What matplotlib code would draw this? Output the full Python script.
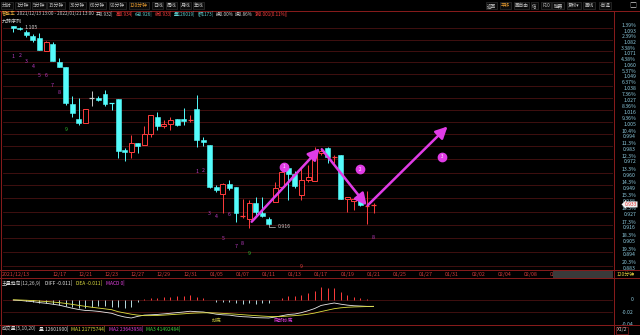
import matplotlib
matplotlib.use("Agg")
import matplotlib.pyplot as plt
import matplotlib.transforms as mtrans
from matplotlib.patches import Rectangle
import numpy as np

plt.rcParams["font.family"] = ["Noto Sans CJK SC", "DejaVu Sans"]
plt.rcParams["axes.unicode_minus"] = False

W, H = 640, 335
UP = "#FF3C3C"
DOWN = "#54FCFC"
FRAME = "#8A1C1C"
GRID = "#4A1212"
AXTXT = "#8CC8DC"
MAGENTA = "#E03CE6"

# 120 分钟 K 线 (2021/12/13 13:00 - 2022/01/21 13:00)
open_ = [1.0955, 1.0936, 1.0891, 1.0855, 1.0838, 1.0713, 1.0777, 1.0606, 1.0553, 1.0211,
         1.0075, 1.0041, 1.0264, 1.0269, 1.0306, 1.0221, 1.0255, 0.9798, 0.9778, 0.9860,
         0.9842, 0.9937, 1.0096, 1.0012, 1.0030, 1.0072, 1.0072, 1.0063, 1.0166, 0.9886,
         0.9842, 0.9475, 0.9418, 0.9502, 0.9480, 0.9233, 0.9206, 0.9345, 0.9261, 0.9206,
         0.9354, 0.9480, 0.9638, 0.9589, 0.9410, 0.9538, 0.9532, 0.9775, 0.9813, 0.9730,
         0.9754, 0.9376, 0.9362, 0.9368, 0.9312, 0.932]
high = [1.0955, 1.0946, 1.0913, 1.0871, 1.0881, 1.0806, 1.0793, 1.0645, 1.0559, 1.0285,
        1.0264, 1.0163, 1.0331, 1.0285, 1.0340, 1.0221, 1.0255, 0.9818, 0.9931, 0.9860,
        1.0012, 1.0112, 1.0141, 1.0066, 1.0096, 1.0072, 1.0172, 1.0111, 1.0294, 0.9915,
        0.9842, 0.9493, 0.9509, 0.9538, 0.9480, 0.9376, 0.9368, 0.9395, 0.9395, 0.9225,
        0.9522, 0.9652, 0.9666, 0.9615, 0.9652, 0.9666, 0.9827, 0.9813, 0.9827, 0.9754,
        0.9754, 0.9391, 0.9376, 0.9385, 0.9445, 0.934]
low = [1.0897, 1.0913, 1.0848, 1.0799, 1.0716, 1.0713, 1.0616, 1.0553, 1.0202, 1.0096,
       1.0021, 1.0041, 1.0196, 1.0239, 1.0196, 1.0156, 0.9725, 0.9704, 0.9725, 0.9775,
       0.9842, 0.9915, 0.9976, 0.9996, 0.9976, 1.0012, 1.0021, 1.0051, 0.9827, 0.9836,
       0.9466, 0.9437, 0.9256, 0.9452, 0.9186, 0.9214, 0.9132, 0.9242, 0.9227, 0.9160,
       0.9354, 0.9466, 0.9368, 0.9469, 0.9368, 0.9524, 0.9532, 0.9754, 0.9681, 0.9681,
       0.9376, 0.9270, 0.9284, 0.9318, 0.9167, 0.926]
close = [1.0930, 1.0922, 1.0864, 1.0815, 1.0716, 1.0799, 1.0616, 1.0559, 1.0218, 1.0126,
         1.0041, 1.0163, 1.0264, 1.0246, 1.0214, 1.0214, 0.9792, 0.9778, 0.9857, 0.9831,
         0.9937, 1.0112, 1.0014, 1.0030, 1.0066, 1.0021, 1.0057, 1.0075, 0.9886, 0.9871,
         0.9475, 0.9452, 0.9503, 0.9466, 0.9256, 0.9242, 0.9340, 0.9264, 0.9236, 0.9170,
         0.9466, 0.9609, 0.9589, 0.9486, 0.9538, 0.9566, 0.9783, 0.9792, 0.9739, 0.9739,
         0.9376, 0.9391, 0.9376, 0.9326, 0.9318, 0.933]

# 坐标轴刻度
grid_prices = [1.093, 1.082, 1.071, 1.060, 1.049, 1.038, 1.027, 1.016, 1.005, 0.994,
               0.983, 0.972, 0.960, 0.949, 0.938, 0.927, 0.916, 0.905, 0.894, 0.883]
grid_pcts = ["1.39%", "2.39%", "3.38%", "4.38%", "5.37%", "6.37%", "7.36%", "8.36%",
             "9.36%", "10.4%", "11.3%", "12.3%", "13.3%", "14.3%", "15.3%", "16.3%",
             "17.3%", "18.3%", "19.3%", "20.3%"]
date_pos = [7, 11, 15, 19, 23, 27, 31, 35, 39, 43, 47, 51, 55, 59, 63, 67, 71, 75, 79, 83, 87]
date_labels = ["12/17", "12/21", "12/23", "12/27", "12/29", "12/31", "01/05", "01/07",
               "01/11", "01/13", "01/17", "01/19", "01/21", "01/25", "01/27", "01/31",
               "02/02", "02/04", "02/08", "02/10", "02/14"]

# 九转序列
td_idx = [0, 1, 2, 3, 4, 5, 6, 7, 8, 28, 29, 30, 31, 32, 33, 34, 35, 36, 55]
td_txt = ["1", "2", "3", "4", "5", "6", "7", "8", "9",
          "1", "2", "3", "4", "5", "6", "7", "8", "9", "8"]

# 画线: 箭头 (K线序号, 价格) 与圆圈标记
arrows = [((36.4, 0.9186), (46.8, 0.9813)),
          ((47.1, 0.9804), (53.95, 0.9322)),
          ((54.1, 0.9322), (66.3, 1.0007))]
circle_x = [41.3, 53.0, 65.4]
circle_y = [0.9652, 0.9630, 0.9739]
circle_txt = ["1", "2", "3"]

# MACD
diff = [-0.001, -0.0015, -0.0025, -0.0035, -0.005, -0.006, -0.0075, -0.009, -0.0115, -0.014,
        -0.016, -0.0175, -0.018, -0.019, -0.0205, -0.022, -0.0255, -0.028, -0.0296, -0.027,
        -0.025, -0.0245, -0.0239, -0.023, -0.022, -0.021, -0.020, -0.0188, -0.0195, -0.020,
        -0.0216, -0.0235, -0.0245, -0.025, -0.0265, -0.0275, -0.028, -0.029, -0.0293, -0.0296,
        -0.028, -0.026, -0.024, -0.0232, -0.021, -0.018, -0.0145, -0.0095, -0.0075, -0.0056,
        -0.0075, -0.009, -0.010, -0.0105, -0.011, -0.011]
dea = [-0.0005, -0.0008, -0.0012, -0.0017, -0.0025, -0.0032, -0.004, -0.005, -0.0063, -0.0078,
       -0.0094, -0.011, -0.0124, -0.0137, -0.015, -0.0163, -0.0195, -0.0215, -0.0235, -0.025,
       -0.0258, -0.0258, -0.0255, -0.025, -0.0243, -0.0236, -0.0229, -0.0221, -0.0216, -0.0213,
       -0.0213, -0.0216, -0.0222, -0.0228, -0.0235, -0.0243, -0.0251, -0.0258, -0.0265, -0.0271,
       -0.0273, -0.0271, -0.0265, -0.0258, -0.0249, -0.0235, -0.0217, -0.0193, -0.0170, -0.0147,
       -0.0133, -0.0124, -0.0119, -0.0116, -0.0113, -0.011]
macd_hist = [-0.001, -0.0014, -0.0026, -0.0036, -0.005, -0.0056, -0.007, -0.008, -0.0104, -0.0124,
             -0.0132, -0.013, -0.0112, -0.0106, -0.011, -0.0114, -0.012, -0.013, -0.0122, -0.004,
             0.0016, 0.0026, 0.0032, 0.004, 0.0046, 0.0052, 0.0058, 0.0066, 0.0042, 0.0026,
             -0.0006, -0.0038, -0.0046, -0.0044, -0.006, -0.0064, -0.0058, -0.0064, -0.0056, -0.005,
             -0.0014, 0.0022, 0.005, 0.0052, 0.0078, 0.011, 0.0144, 0.0196, 0.019, 0.0182,
             0.0116, 0.0068, 0.0038, 0.0022, 0.0006, 0.0]


def fx(px):
    return px / W


def fy(py):
    return 1 - py / H


fig = plt.figure(figsize=(W / 100, H / 100), dpi=100, facecolor="black")
renderer = fig.canvas.get_renderer()


def ftext(px, py, s, color="#D0D0D0", size=3.6, ha="left", **kw):
    return fig.text(fx(px), fy(py), s, color=color, fontsize=size, ha=ha, va="center", **kw)


def text_row(pieces, px, py, size, gap=2.5):
    # 一行彩色文字, 依次排开, 不重叠
    for t, c in pieces:
        txt = ftext(px, py, t, color=c, size=size)
        px = txt.get_window_extent(renderer).x1 + gap


# ---- 主图 ----
x0, x1 = -1.5725, 91.56
ax = fig.add_axes([fx(3), fy(269), 610 / W, 259 / H])
ax.set_facecolor("black")
ax.set_yscale("log")
ax.set_xlim(x0, x1)
ax.set_ylim(0.8804, 1.1111)
ax.set_xticks([])
ax.set_yticks([])
ax.minorticks_off()
for s in ax.spines.values():
    s.set_visible(False)

for p in grid_prices:
    ax.axhline(p, color=GRID, lw=0.6, zorder=0)

idx = np.arange(len(close))
bw = 0.76
for i in idx:
    o, h, l, c = open_[i], high[i], low[i], close[i]
    if c > o:
        col = UP
    elif c < o:
        col = DOWN
    else:
        col = "#C8C8C8"
    ax.vlines(i, l, h, color=col, lw=0.7, zorder=2)
    top, bot = max(o, c), min(o, c)
    if top / bot < 1.0012:
        ax.hlines((top + bot) / 2, i - bw / 2, i + bw / 2, color=col, lw=0.9, zorder=3)
    elif c > o:
        ax.bar(i, top - bot, bottom=bot, width=bw, facecolor="black", edgecolor=col,
               lw=0.7, zorder=3)
    else:
        ax.bar(i, top - bot, bottom=bot, width=bw, facecolor=col, edgecolor=col,
               lw=0.4, zorder=3)

# 九转数字
for k, (i, t) in enumerate(zip(td_idx, td_txt)):
    col = "#30C030" if (t == "9" and k < 18) else "#B83CC0"
    ax.annotate(t, xy=(i, low[i]), xytext=(0, -25), textcoords="offset pixels",
                ha="center", va="center", color=col, fontsize=3.8)
ax.annotate("9", xy=(44, 0.8827), ha="center", va="center", color="#E03C3C", fontsize=3.8)

# 最高 / 最低 标注
ax.annotate("1.105", xy=(1, high[1]), xytext=(5, -1), textcoords="offset pixels",
            ha="left", va="center", color="#D0D0D0", fontsize=3.8)
ax.annotate("0.916", xy=(39, low[39]), xytext=(9, -2), textcoords="offset pixels",
            ha="left", va="center", color="#C8C8C8", fontsize=3.8,
            arrowprops=dict(arrowstyle="-", color="#C8C8C8", lw=0.5,
                            connectionstyle="angle,angleA=0,angleB=90", shrinkA=0, shrinkB=0))

for (xs, ys), (xe, ye) in arrows:
    ax.annotate("", xy=(xe, ye), xytext=(xs, ys),
                arrowprops=dict(arrowstyle="-|>,head_length=0.7,head_width=0.35",
                                color=MAGENTA, lw=1.8, shrinkA=0, shrinkB=0), zorder=5)
ax.plot(circle_x, circle_y, "o", ms=6, color=MAGENTA, zorder=6)
for cx, cy, t in zip(circle_x, circle_y, circle_txt):
    ax.text(cx, cy, t, color="white", fontsize=3.2, ha="center", va="center", zorder=7)

# 右侧价格轴
tr = mtrans.blended_transform_factory(fig.transFigure, ax.transData)
for p, pc in zip(grid_prices, grid_pcts):
    ax.annotate(pc, xy=(fx(636), p), xycoords=tr, xytext=(0, 2.8), textcoords="offset pixels",
                ha="right", va="center", color=AXTXT, fontsize=3.7, annotation_clip=False)
    ax.annotate(f"{p:.3f}", xy=(fx(636), p), xycoords=tr, xytext=(0, -2.8),
                textcoords="offset pixels", ha="right", va="center", color=AXTXT,
                fontsize=3.7, annotation_clip=False)
# 最新价标签 (盖在刻度上, 与原图一样)
ax.annotate(f"{close[-1]:.3f}", xy=(fx(637), close[-1]), xycoords=tr, ha="right",
            va="center", color="#E03030", fontsize=3.6, annotation_clip=False, zorder=8,
            bbox=dict(boxstyle="larrow,pad=0.1", fc="#F0F0F0", ec="none"))

# ---- 日期行 ----
trd = mtrans.blended_transform_factory(ax.transData, fig.transFigure)
fig.patches.append(Rectangle((fx(553), fy(277.5)), fx(60), 7 / H, transform=fig.transFigure,
                             fc="#3A3A3A", ec="none"))
ftext(2, 274.3, "2021/12/13", color="#D23C3C", size=3.8)
for d, lab in zip(date_pos, date_labels):
    ax.text(d, fy(274.3), lab, transform=trd, ha="center", va="center",
            color="#D23C3C", fontsize=3.8, clip_on=False)
ftext(626, 274.3, "120分钟", color="#E8D040", size=3.6, ha="center")

# ---- MACD ----
ax2 = fig.add_axes([fx(3), fy(324), 610 / W, 46 / H])
ax2.set_facecolor("black")
ax2.set_xlim(x0, x1)
ax2.set_ylim(-0.0392, 0.0344)
ax2.set_xticks([])
ax2.set_yticks([])
for s in ax2.spines.values():
    s.set_visible(False)
ax2.axhline(0, color=GRID, lw=0.6)
ax2.axhline(-0.02, color=GRID, lw=0.6)
hist_col = [UP if v > 0 else "#B8DCE0" for v in macd_hist]
ax2.vlines(idx, 0, macd_hist, colors=hist_col, lw=0.7)
ax2.plot(idx, diff, color="#E8E8E8", lw=0.6)
ax2.plot(idx, dea, color="#E0E040", lw=0.6)
ax2.text(31, -0.0328, "抄底", color="#C8C840", fontsize=3.5, ha="center", va="center")
ax2.text(41.2, -0.0328, "底部抄底", color="#E040E0", fontsize=3.5, ha="center", va="center")
tr2 = mtrans.blended_transform_factory(fig.transFigure, ax2.transData)
for v, lab in [(0, "0"), (-0.02, "-0.02"), (-0.04, "-0.04")]:
    ax2.text(fx(634), v, lab, transform=tr2, color=AXTXT, fontsize=3.7, ha="right",
             va="center", clip_on=False)

# ---- 文字 / 工具栏 ----
box = dict(boxstyle="square,pad=0.2", fc="#0A0A0A", ec="#383838", lw=0.4)
tabs = [("分时", 7), ("1分钟", 22.5), ("5分钟", 39), ("15分钟", 56), ("30分钟", 77.5),
        ("60分钟", 97.5), ("90分钟", 117.5), ("120分钟", 139), ("日线", 157.5),
        ("周线", 171.5), ("月线", 185.5), ("年线", 198.5)]
for t, x in tabs:
    col = "#F0A030" if t == "120分钟" else "#C8C8C8"
    ftext(x, 5.5, t, color=col, ha="center", size=3.5, bbox=box)
rtabs = [("返回", 491.5), ("平移", 505.5), ("画自由", 521.5), ("信", 534.5), ("F10", 546),
         ("弹幕", 558), ("复权▾", 574), ("画线", 589), ("-自选", 605)]
for t, x in rtabs:
    col = "#F0A030" if t == "平移" else "#C8C8C8"
    ftext(x, 5.5, t, color=col, ha="center", size=3.3, bbox=box)
ftext(633, 5.5, "□", color="#C8C8C8", ha="center", size=5)

info = [("智能车", "#E8B040"), ("2021/12/13 13:00 - 2022/01/21 13:00", "#D0D0D0"),
        ("开0.932|", "#D0D0D0"), ("高0.934|", "#FF4040"),
        ("低0.926|", "#60D0D0"), ("收0.933|", "#FF4040"),
        ("量126019|", "#60D0D0"), ("额1173|", "#60D0D0"),
        ("换0.00%", "#D0D0D0"), ("振0.86%", "#D0D0D0"),
        ("涨0.001(0.11%)|", "#FF4040")]
text_row(info, 1.5, 14, 3.3, gap=2)
ftext(1.5, 21.5, "九转序列", color="#D0D0D0", size=3.6)

macd_hdr = [("主量趋向(12,26,9)", "#D0D0D0"), ("DIFF -0.011|", "#E8E8E8"),
            ("DEA -0.011|", "#E0E040"), ("MACD 0|", "#E040E0")]
text_row(macd_hdr, 1.5, 283, 3.5, gap=4)

vol_hdr = [("成交量(5,10,20)", "#D0D0D0"), ("量 12601900|", "#E0E0E0"),
           ("MA1 21775744|", "#E0E040"), ("MA2 23643958|", "#E040E0"),
           ("MA3 41492484|", "#40D040")]
text_row(vol_hdr, 1.5, 328.5, 3.5, gap=3)
ftext(622, 330, "X1/2", color="#C8C8C8", size=3.6, ha="center",
      bbox=dict(boxstyle="square,pad=0.2", fc="black", ec=FRAME, lw=0.5))

# 边框线
for py in [10.5, 269.5, 277.8, 324.5, 334.5]:
    fig.add_artist(plt.Line2D([0, 1], [fy(py), fy(py)], color=FRAME, lw=0.7))
for px in [1, 613.5]:
    fig.add_artist(plt.Line2D([fx(px), fx(px)], [fy(10.5), fy(334.5)], color=FRAME, lw=0.7))

fig.savefig("out.png", dpi=100, facecolor="black")
